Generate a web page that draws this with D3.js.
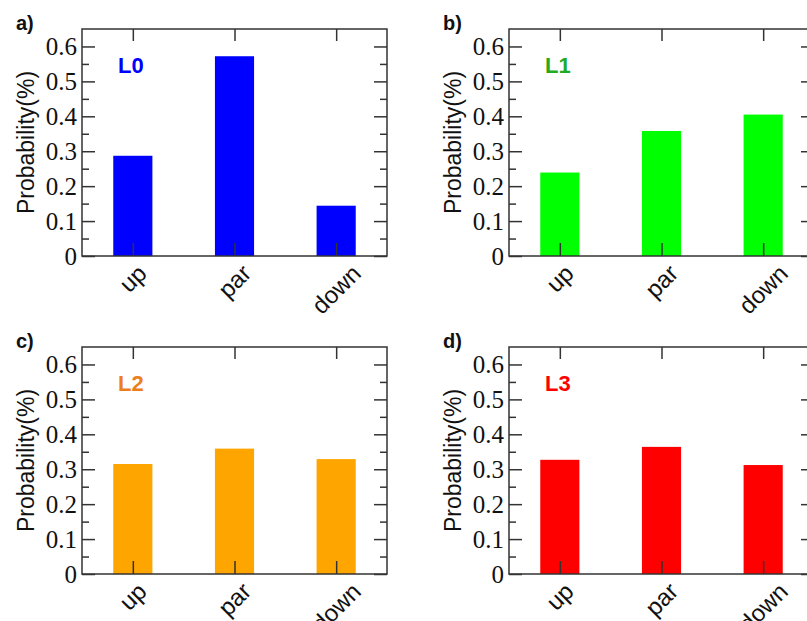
<!DOCTYPE html>
<html>
<head>
<meta charset="utf-8">
<script src="https://cdn.jsdelivr.net/npm/d3@7"></script>
<style>
  body { margin: 0; background: #fff; }
  svg { display: block; }
</style>
</head>
<body>
<div id="chart"></div>
<script>
// bar values
const categories = ["up", "par", "down"];
const levels = ["L0", "L1", "L2", "L3"];
const panelTags = ["a)", "b)", "c)", "d)"];
const l0 = [0.287, 0.572, 0.144];
const l1 = [0.239, 0.358, 0.405];
const l2 = [0.315, 0.359, 0.329];
const l3 = [0.327, 0.364, 0.312];
const yTicks = [0, 0.1, 0.2, 0.3, 0.4, 0.5, 0.6];

const series = [l0, l1, l2, l3];
const barColors = ["#0000ff", "#00ff00", "#ffa500", "#ff0000"];
const textColors = ["#0000ff", "#22aa22", "#ec7f1c", "#ff0000"];

const width = 807, height = 621;
const pw = 305, ph = 227;
const origins = [[82, 29], [509, 29], [82, 347], [509, 347]];

const svg = d3.select("#chart").append("svg")
    .attr("width", width)
    .attr("height", height);

const axisColor = "#333";

function tickLines(sel) {
    sel.select(".domain").remove();
    sel.selectAll("line").attr("stroke", axisColor).attr("stroke-width", 1.5);
}

series.forEach((vals, i) => {
    const [ox, oy] = origins[i];
    const g = svg.append("g").attr("transform", `translate(${ox},${oy})`);

    const x = d3.scalePoint().domain(categories).range([0, pw]).padding(0.5);
    const y = d3.scaleLinear().domain([0, 0.65]).range([ph, 0]);
    const barW = x.step() * 0.385;
    const minor = d3.range(0.05, 0.65, 0.1);

    // bars
    g.selectAll("rect.bar")
        .data(vals)
        .join("rect")
        .attr("class", "bar")
        .attr("x", (d, j) => x(categories[j]) - barW / 2)
        .attr("y", d => y(d))
        .attr("width", barW)
        .attr("height", d => ph - y(d))
        .attr("fill", barColors[i]);

    // frame
    g.append("rect")
        .attr("width", pw).attr("height", ph)
        .attr("fill", "none")
        .attr("stroke", axisColor)
        .attr("stroke-width", 1.5);

    // inward ticks on all four sides
    g.append("g").call(d3.axisLeft(y).tickValues(yTicks).tickSize(-13).tickFormat("")).call(tickLines);
    g.append("g").call(d3.axisLeft(y).tickValues(minor).tickSize(-7).tickFormat("")).call(tickLines);
    g.append("g").attr("transform", `translate(${pw},0)`)
        .call(d3.axisRight(y).tickValues(yTicks).tickSize(-13).tickFormat("")).call(tickLines);
    g.append("g").attr("transform", `translate(${pw},0)`)
        .call(d3.axisRight(y).tickValues(minor).tickSize(-7).tickFormat("")).call(tickLines);
    g.append("g").call(d3.axisTop(x).tickSize(-12).tickFormat("")).call(tickLines);
    g.append("g").attr("transform", `translate(0,${ph})`)
        .call(d3.axisBottom(x).tickSize(-13).tickFormat("")).call(tickLines);

    // y tick labels (serif)
    g.selectAll("text.ytl")
        .data(yTicks)
        .join("text")
        .attr("class", "ytl")
        .attr("x", -5)
        .attr("y", d => y(d))
        .attr("dy", "0.34em")
        .attr("text-anchor", "end")
        .attr("font-family", "Liberation Serif")
        .attr("font-size", 25)
        .attr("fill", "#111")
        .text(d => d === 0 ? "0" : d3.format(".1f")(d));

    // category labels, rotated, box centred under the tick
    g.selectAll("text.xtl")
        .data(categories)
        .join("text")
        .attr("class", "xtl")
        .attr("text-anchor", "middle")
        .attr("dy", "0.35em")
        .attr("font-family", "Liberation Sans")
        .attr("font-size", 24)
        .attr("fill", "#111")
        .text(d => d)
        .attr("transform", function (d) {
            const L = this.getComputedTextLength();
            const off = ph + 7 + (L + 17) / (2 * Math.SQRT2);
            return `translate(${x(d)},${off}) rotate(-45)`;
        });

    // y title
    g.append("text")
        .attr("transform", `translate(-48,${ph / 2}) rotate(-90)`)
        .attr("text-anchor", "middle")
        .attr("font-family", "Liberation Sans")
        .attr("font-size", 23)
        .attr("fill", "#111")
        .text("Probability(%)");

    // level tag
    g.append("text")
        .attr("x", 36).attr("y", 44)
        .attr("font-family", "Liberation Sans")
        .attr("font-weight", "bold")
        .attr("font-size", 22)
        .attr("fill", textColors[i])
        .text(levels[i]);

    // panel letter
    g.append("text")
        .attr("x", -66).attr("y", 1)
        .attr("font-family", "Liberation Sans")
        .attr("font-weight", "bold")
        .attr("font-size", 20)
        .attr("fill", "#111")
        .text(panelTags[i]);
});
</script>
</body>
</html>
